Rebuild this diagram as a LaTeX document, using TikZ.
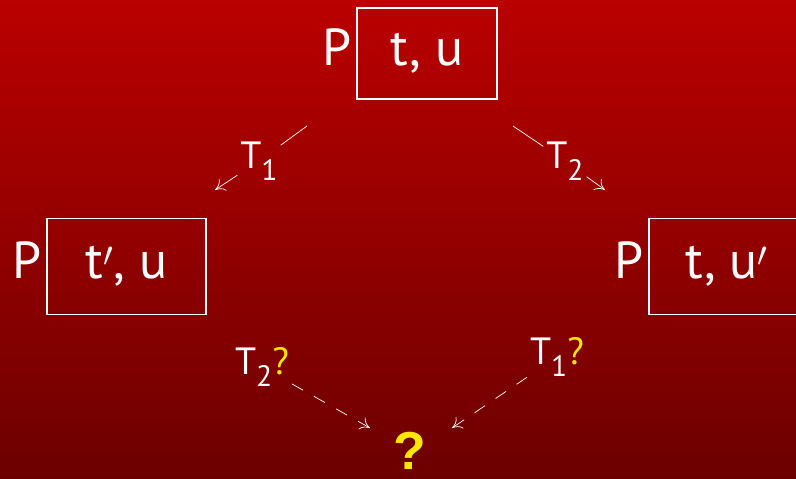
\documentclass[tikz,border=0pt]{standalone}
\usepackage{fontspec}
\setmainfont{PT Sans}
\newfontfamily\qfont{Liberation Sans}
\usetikzlibrary{positioning, arrows.meta}

\definecolor{bgtop}{RGB}{186,0,0}
\definecolor{bgbot}{RGB}{108,0,0}
\definecolor{qyellow}{RGB}{255,230,0}

\newcommand{\tsub}[1]{\raisebox{-0.32em}{\fontsize{21}{25}\selectfont #1}}

\begin{document}
\begin{tikzpicture}[
    x=0.025cm, y=-0.025cm,
    state/.style={
        rectangle,
        draw=white,
        line width=1.2pt,
        inner xsep=0pt,
        minimum height=2.4cm,
        font=\fontsize{37}{44}\selectfont,
        text=white
    },
    proc/.style={
        font=\fontsize{37}{44}\selectfont,
        text=white,
        inner sep=0pt
    },
    tlabel/.style={
        font=\fontsize{27}{32}\selectfont,
        text=white,
        inner sep=2pt
    },
    arrow/.style={
        -{To[length=2.4mm, width=3.4mm]},
        white,
        line width=0.5pt
    },
    guess/.style={
        arrow,
        dash pattern=on 9pt off 9pt
    }
]

    % Background
    \useasboundingbox (0,0) rectangle (796,479);
    \shade[top color=bgtop, bottom color=bgbot] (0,0) rectangle (796,479);

    % States
    \node[state, minimum width=3.5cm, minimum height=2.275cm] (top) at (427,53.5) {t, u};
    \node[proc, anchor=base east] (ptop) at ([xshift=-0.1cm]top.base west) {P};

    \node[state, minimum width=3.975cm] (left) at (126.5,266.5) {t$'$, u};
    \node[proc, anchor=base east] (pleft) at ([xshift=-0.1cm]left.base west) {P};

    \node[state, minimum width=3.9cm] (right) at (727,266.5) {t, u$'$\hspace{0.2cm}};
    \node[proc, anchor=base east] (pright) at ([xshift=-0.1cm]right.base west) {P};

    % Unknown result
    \node[font=\qfont\bfseries\fontsize{38}{45}\selectfont, text=qyellow, inner sep=0pt] (goal) at (410,451) {?};

    % Steps T1 and T2
    \coordinate (t1s) at (307,126);
    \coordinate (t1e) at (215,190);
    \node[tlabel] (t1) at (259,161) {T\tsub{1}};
    \draw[white, line width=0.5pt] (t1s) -- (t1);
    \draw[arrow] (t1) -- (t1e);

    \coordinate (t2s) at (513,126);
    \coordinate (t2e) at (605,190);
    \node[tlabel] (t2) at (565,161) {T\tsub{2}};
    \draw[white, line width=0.5pt] (t2s) -- (t2);
    \draw[arrow] (t2) -- (t2e);

    % Steps in doubt
    \node[tlabel] (t2q) at (262,367) {T\tsub{2}\textcolor{qyellow}{?}};
    \coordinate (q1e) at (370,428);
    \draw[guess] (t2q) -- (q1e);

    \node[tlabel] (t1q) at (557,357) {T\tsub{1}\textcolor{qyellow}{?}};
    \coordinate (q2e) at (452,428);
    \draw[guess] (t1q) -- (q2e);

\end{tikzpicture}
\end{document}
